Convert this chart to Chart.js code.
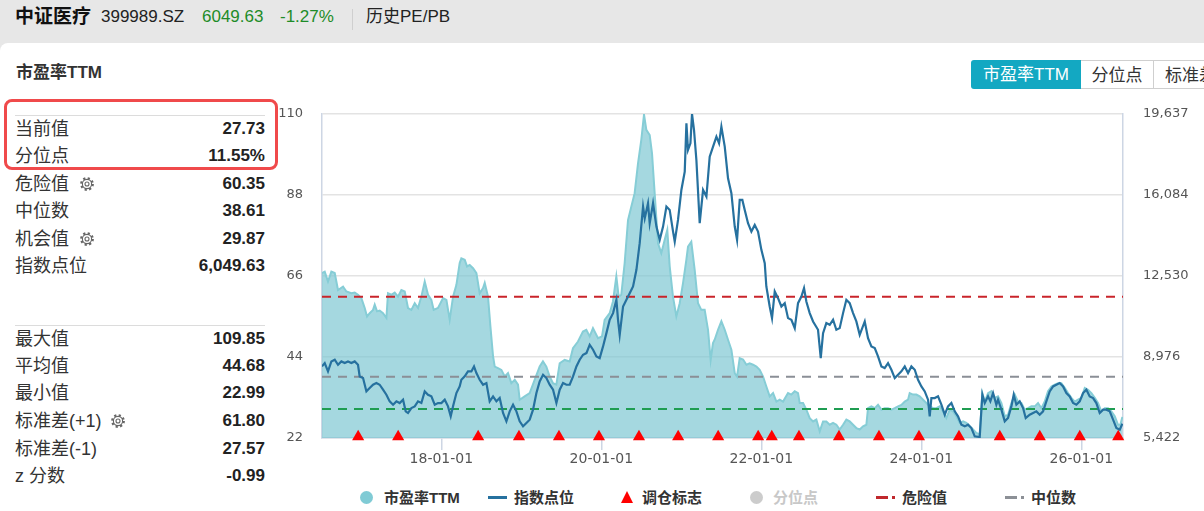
<!DOCTYPE html>
<html><head><meta charset="utf-8">
<script src="https://cdn.jsdelivr.net/npm/chart.js@4/dist/chart.umd.min.js"></script>
<style>
html,body{margin:0;padding:0;width:1204px;height:511px;overflow:hidden;background:#e7e7e7;
  font-family:"Liberation Sans","Noto Sans CJK SC",sans-serif;color:#333;}
.abs{position:absolute;white-space:nowrap;}
.card{position:absolute;left:0;top:43px;width:1204px;height:468px;background:#fff;border-top-left-radius:8px;}
.h{top:6px;line-height:22px;font-size:17px;color:#222;}
.title{left:16px;top:62px;line-height:22px;font-size:17px;font-weight:bold;color:#333;}
.btn{top:60px;height:29px;line-height:29px;font-size:17px;text-align:center;box-sizing:border-box;}
.redbox{left:4px;top:99px;width:274px;height:71px;box-sizing:border-box;border:3px solid #f04a4b;border-radius:8px;}
.sep{left:15px;width:250px;height:1px;background:#dcdcdc;}
.lab{left:15px;height:26px;line-height:26px;font-size:18px;color:#333;}
.val{right:939px;height:26px;line-height:26px;font-size:17px;font-weight:bold;color:#222;text-align:right;}
.gear{width:16px;height:16px;}
#chartBox{position:absolute;left:270px;top:100px;width:934px;height:380px;}
.lg{top:488px;line-height:20px;font-size:15px;font-weight:bold;color:#333;}
</style></head>
<body>
<div class="abs h" style="left:15px;font-size:19px;font-weight:bold;color:#111;">中证医疗</div>
<div class="abs h" style="left:101px;">399989.SZ</div>
<div class="abs h" style="left:202px;color:#1e8c28;">6049.63</div>
<div class="abs h" style="left:280px;color:#1e8c28;">-1.27%</div>
<div class="abs" style="left:352px;top:9px;width:1px;height:21px;background:#cfcfcf;"></div>
<div class="abs h" style="left:366px;">历史PE/PB</div>

<div class="card"></div>
<div class="abs title">市盈率TTM</div>

<div class="abs btn" style="left:971px;width:110px;background:#13a8c2;color:#fff;border-radius:3px 0 0 3px;">市盈率TTM</div>
<div class="abs btn" style="left:1081px;width:73px;border:1px solid #cfcfcf;border-left:none;color:#333;">分位点</div>
<div class="abs btn" style="left:1154px;width:80px;border:1px solid #cfcfcf;border-left:none;color:#333;text-align:left;padding-left:11px;">标准差</div>

<div class="abs redbox"></div>
<div class="abs sep" style="top:115px;"></div>
<div class="abs sep" style="top:325px;"></div>
<div id="stats"></div>

<div id="chartBox"><canvas id="c"></canvas></div>

<!-- legend -->
<div class="abs" style="left:360px;top:491px;width:13px;height:13px;border-radius:50%;background:#80cbd5;"></div>
<div class="abs lg" style="left:384px;">市盈率TTM</div>
<div class="abs" style="left:488px;top:496px;width:19px;height:3px;background:#26719f;"></div>
<div class="abs lg" style="left:514px;">指数点位</div>
<div class="abs" style="left:621px;top:491px;width:0;height:0;border-left:6px solid transparent;border-right:6px solid transparent;border-bottom:12px solid #ff0000;"></div>
<div class="abs lg" style="left:642px;">调仓标志</div>
<div class="abs" style="left:750px;top:491px;width:13px;height:13px;border-radius:50%;background:#cccccc;"></div>
<div class="abs lg" style="left:773px;color:#c8c8c8;">分位点</div>
<div class="abs" style="left:876px;top:496px;width:12px;height:3px;background:#c0282d;"></div>
<div class="abs" style="left:892px;top:496px;width:3px;height:3px;background:#c0282d;"></div>
<div class="abs lg" style="left:902px;">危险值</div>
<div class="abs" style="left:1005px;top:496px;width:12px;height:3px;background:#8c9096;"></div>
<div class="abs" style="left:1021px;top:496px;width:3px;height:3px;background:#8c9096;"></div>
<div class="abs lg" style="left:1031px;">中位数</div>

<script>
// ---------- panel statistics ----------
const statLabels1 = ['当前值','分位点','危险值','中位数','机会值','指数点位'];
const statValues1 = ['27.73','11.55%','60.35','38.61','29.87','6,049.63'];
const statGear1   = [false,false,true,false,true,false];
const statLabels2 = ['最大值','平均值','最小值','标准差(+1)','标准差(-1)','z 分数'];
const statValues2 = ['109.85','44.68','22.99','61.80','27.57','-0.99'];
const statGear2   = [false,false,false,true,false,false];

// ---------- chart data ----------
const peDates = [
2016.508,2016.542,2016.583,2016.625,2016.667,2016.708,2016.771,2016.813,2016.875,2016.917,2016.958,
2017.000,2017.042,2017.071,2017.104,2017.146,2017.167,2017.196,2017.229,2017.271,2017.313,2017.333,
2017.375,2017.417,2017.458,2017.500,2017.542,2017.583,2017.625,2017.667,2017.708,2017.750,2017.792,
2017.833,2017.875,2017.904,2017.958,2018.021,2018.063,2018.104,2018.146,2018.188,2018.229,2018.250,
2018.292,2018.321,2018.354,2018.396,2018.438,2018.479,2018.521,2018.542,2018.583,2018.613,2018.646,
2018.667,2018.708,2018.750,2018.792,2018.833,2018.875,2018.917,2018.958,2018.979,2019.041,2019.104,
2019.166,2019.229,2019.270,2019.312,2019.354,2019.395,2019.437,2019.479,2019.541,2019.604,2019.645,
2019.708,2019.770,2019.812,2019.854,2019.895,2019.958,2020.008,2020.041,2020.104,2020.145,2020.187,
2020.216,2020.249,2020.291,2020.333,2020.374,2020.416,2020.458,2020.499,2020.533,2020.562,2020.604,
2020.633,2020.666,2020.708,2020.749,2020.791,2020.824,2020.854,2020.895,2020.937,2020.979,2021.020,
2021.062,2021.083,2021.124,2021.166,2021.208,2021.249,2021.291,2021.333,2021.366,2021.395,2021.416,
2021.458,2021.500,2021.542,2021.583,2021.625,2021.667,2021.696,2021.729,2021.771,2021.813,2021.854,
2021.896,2021.938,2021.979,2022.021,2022.062,2022.104,2022.146,2022.188,2022.229,2022.271,2022.333,
2022.375,2022.417,2022.458,2022.479,2022.521,2022.562,2022.604,2022.646,2022.687,2022.729,2022.771,
2022.812,2022.854,2022.896,2022.937,2022.979,2023.021,2023.062,2023.104,2023.146,2023.187,2023.229,
2023.271,2023.312,2023.333,2023.375,2023.417,2023.458,2023.500,2023.541,2023.583,2023.625,2023.667,
2023.708,2023.750,2023.792,2023.833,2023.854,2023.896,2023.937,2023.979,2024.021,2024.062,2024.104,
2024.146,2024.187,2024.229,2024.271,2024.312,2024.354,2024.396,2024.437,2024.479,2024.521,2024.562,
2024.604,2024.646,2024.687,2024.729,2024.762,2024.792,2024.833,2024.875,2024.917,2024.958,2025.000,
2025.042,2025.083,2025.125,2025.167,2025.208,2025.250,2025.292,2025.333,2025.375,2025.417,2025.458,
2025.500,2025.542,2025.583,2025.625,2025.667,2025.708,2025.750,2025.792,2025.833,2025.875,2025.917,
2025.958,2026.000,2026.042,2026.083,2026.125,2026.167,2026.208,2026.250,2026.292,2026.333,2026.375,
2026.417,2026.458,2026.487,2026.512];
const peValues = [
66.8,67.2,64.5,67.2,66.8,62.2,63.1,61.8,61.3,61.5,60.9,
60.0,57.3,55.0,55.9,56.8,58.2,56.4,56.6,55.9,54.6,61.3,
60.9,61.5,60.4,62.2,61.8,57.3,56.8,58.6,57.3,60.4,64.5,
60.9,59.5,56.8,57.3,60.0,59.5,54.1,60.4,63.6,69.5,70.8,
70.4,68.6,69.0,68.1,66.8,61.3,62.7,64.1,60.4,52.3,44.2,
41.4,41.0,40.5,38.7,39.6,36.9,37.8,36.5,32.4,33.3,34.2,
37.8,41.4,42.8,41.4,38.7,36.9,36.5,42.3,43.2,42.8,46.4,
48.2,50.9,51.4,49.6,51.8,49.1,49.6,54.1,55.9,59.1,65.9,
60.4,60.9,69.5,81.2,84.8,88.5,96.6,103.0,109.85,105.7,104.3,
99.3,88.5,74.9,72.2,75.8,78.5,68.6,60.4,55.0,58.6,64.0,
70.4,74.0,75.3,67.7,58.6,56.8,56.8,51.4,43.2,47.8,48.7,
51.4,53.7,51.4,48.7,46.0,39.6,38.7,43.7,43.3,41.9,42.3,
41.9,41.4,40.5,38.7,36.0,33.3,34.2,31.9,32.4,31.9,34.2,
33.8,34.7,34.2,31.5,31.5,29.7,27.4,26.5,27.0,23.8,26.5,
26.5,25.6,26.1,25.6,24.3,25.6,27.0,26.5,25.6,24.7,24.3,
25.2,25.6,30.1,30.6,30.1,31.0,29.7,30.1,30.1,29.7,30.1,
30.6,31.0,31.9,32.4,34.2,33.8,33.8,33.3,32.4,31.5,30.6,
30.1,30.1,30.6,29.2,27.4,29.7,29.2,27.9,26.1,26.5,26.1,
25.2,24.3,23.4,22.99,34.2,31.9,34.2,34.7,32.9,33.3,31.5,
27.9,28.3,31.5,33.8,31.9,31.5,29.7,30.1,30.6,30.6,31.5,
30.1,31.9,34.7,36.0,36.5,36.9,36.9,35.6,34.2,32.9,31.9,
32.4,32.9,35.6,35.1,34.2,32.9,31.5,29.2,30.1,30.1,29.2,
27.9,25.6,25.6,27.73];

const idxDates = [
2016.508,2016.542,2016.583,2016.625,2016.667,2016.708,2016.750,2016.792,2016.833,2016.875,2016.917,
2016.958,2016.979,2017.021,2017.063,2017.104,2017.146,2017.188,2017.229,2017.271,2017.313,2017.354,
2017.396,2017.438,2017.479,2017.521,2017.554,2017.583,2017.625,2017.667,2017.708,2017.750,2017.792,
2017.833,2017.875,2017.917,2017.958,2018.000,2018.042,2018.083,2018.117,2018.146,2018.188,2018.229,
2018.250,2018.292,2018.333,2018.375,2018.408,2018.438,2018.479,2018.521,2018.563,2018.604,2018.646,
2018.688,2018.729,2018.771,2018.813,2018.854,2018.896,2018.938,2018.979,2019.021,2019.063,2019.104,
2019.146,2019.188,2019.229,2019.271,2019.313,2019.354,2019.396,2019.438,2019.479,2019.521,2019.563,
2019.604,2019.646,2019.688,2019.729,2019.771,2019.813,2019.854,2019.896,2019.938,2019.979,2020.021,
2020.063,2020.104,2020.146,2020.188,2020.208,2020.229,2020.271,2020.313,2020.354,2020.396,2020.438,
2020.479,2020.521,2020.542,2020.583,2020.604,2020.646,2020.688,2020.729,2020.771,2020.813,2020.854,
2020.896,2020.917,2020.958,2021.000,2021.042,2021.063,2021.083,2021.113,2021.133,2021.158,2021.188,
2021.229,2021.271,2021.313,2021.354,2021.396,2021.438,2021.471,2021.500,2021.542,2021.583,2021.625,
2021.667,2021.696,2021.729,2021.762,2021.792,2021.833,2021.875,2021.917,2021.958,2022.000,2022.042,
2022.062,2022.104,2022.133,2022.167,2022.208,2022.250,2022.292,2022.333,2022.375,2022.417,2022.458,
2022.500,2022.533,2022.562,2022.604,2022.646,2022.708,2022.742,2022.771,2022.812,2022.854,2022.896,
2022.937,2022.979,2023.021,2023.062,2023.104,2023.146,2023.187,2023.229,2023.292,2023.333,2023.375,
2023.417,2023.458,2023.500,2023.541,2023.583,2023.625,2023.667,2023.708,2023.750,2023.792,2023.833,
2023.875,2023.917,2023.958,2024.000,2024.042,2024.083,2024.104,2024.125,2024.167,2024.208,2024.250,
2024.292,2024.333,2024.375,2024.417,2024.458,2024.500,2024.542,2024.583,2024.625,2024.667,2024.729,
2024.762,2024.792,2024.833,2024.862,2024.896,2024.937,2024.958,2025.000,2025.042,2025.083,2025.125,
2025.154,2025.187,2025.229,2025.271,2025.304,2025.354,2025.396,2025.437,2025.479,2025.521,2025.562,
2025.604,2025.646,2025.687,2025.729,2025.771,2025.812,2025.854,2025.896,2025.937,2025.979,2026.021,
2026.062,2026.104,2026.146,2026.187,2026.229,2026.271,2026.312,2026.354,2026.396,2026.437,2026.479,
2026.512];
const idxValues = [
8563,8709,8344,8782,8855,8636,8782,8709,8782,8709,8782,
8636,8125,8052,7467,7613,7759,7832,7759,7540,7321,7029,
6883,7029,6956,7102,6591,6518,6737,6810,7029,6956,7467,
7321,7248,6883,6956,6956,7102,6810,6372,6810,7394,7686,
7978,8125,8344,8344,8563,8271,7978,7759,7832,7029,7248,
7029,7175,6518,6153,6591,6883,6591,6153,5933,6080,6226,
6664,7394,7905,8198,8052,7759,7540,6956,7540,7832,7759,
7759,8125,8563,8855,9075,9148,9513,9294,9001,8928,9440,
10024,10609,10901,11485,10609,9951,11193,11485,11777,12070,12800,
13969,15576,15065,15722,14845,15722,14699,14115,14699,15576,15430,
14480,14042,14991,16306,17110,19228,18059,18351,19637,18936,17599,
14845,16306,16014,17767,18205,18644,18351,19082,18205,16818,16160,
14699,14115,15868,15868,15430,14845,14480,14772,14480,13676,13092,
12070,11193,10682,11850,11558,11193,11339,10682,10609,10243,11339,
11631,11996,11412,10901,10536,10170,8928,10024,10463,10390,10609,
10170,10243,10901,11485,11339,10901,10536,9951,10536,9805,9440,
9367,9001,8563,8490,8709,8417,8052,8198,8344,8563,8271,
8563,8417,7978,7686,7467,7102,6372,7175,7175,7248,6883,
6445,6810,6956,6591,6372,6007,5933,6007,5860,5495,5466,
7321,6956,7248,7029,7394,6883,7102,6664,6153,6299,6810,
7321,6883,7029,6737,6299,6445,6518,6591,6445,6591,7029,
7467,7686,7759,7832,7686,7394,7248,6956,6883,7029,7394,
7540,7248,7175,6956,6518,6664,6664,6591,6226,5860,5787,
6050];

const rebalanceDates = [2016.96,2017.46,2018.46,2018.97,2019.47,2019.97,2020.47,2020.96,2021.46,2021.96,
  2022.13,2022.47,2022.97,2023.47,2023.97,2024.47,2024.98,2025.48,2025.98,2026.46];
const markerLevel = 22.35;
const dangerValue = 60.35;
const medianValue = 38.61;
const chanceValue = 29.87;
const yearTicks = [2018, 2020, 2022, 2024, 2026];
const peTicks = [22, 44, 66, 88, 110];
const idxTicks = [5422.2, 8976.0, 12529.8, 16083.6, 19637.4];
const xRange = [2016.508, 2026.52];

// ---------- panel render ----------
const gearSvg = '<svg class="gear" viewBox="0 0 16 16"><circle cx="8" cy="8" r="5.6" fill="none" stroke="#666" stroke-width="2.6" stroke-dasharray="2.1 2.3"/><circle cx="8" cy="8" r="4.6" fill="#fff" stroke="#666" stroke-width="1.1"/><circle cx="8" cy="8" r="2" fill="none" stroke="#666" stroke-width="1.1"/></svg>';
function addRows(labels, values, gears, centers){
  const host = document.getElementById('stats');
  labels.forEach((l,i)=>{
    const top = centers[i]-13;
    const a = document.createElement('div'); a.className='abs lab'; a.style.top=top+'px'; a.textContent=l; host.appendChild(a);
    const b = document.createElement('div'); b.className='abs val'; b.style.top=top+'px'; b.textContent=values[i]; host.appendChild(b);
    if (gears[i]) {
      const g = document.createElement('div'); g.className='abs'; g.innerHTML=gearSvg;
      g.style.left = (l.length>3 ? 110 : 79)+'px'; g.style.top=(centers[i]-8)+'px'; host.appendChild(g);
    }
  });
}
addRows(statLabels1, statValues1, statGear1, [129,156,184,211,239,266]);
addRows(statLabels2, statValues2, statGear2, [339,366,393,421,449,476]);

// ---------- chart ----------
Chart.defaults.font.family = '"DejaVu Sans", sans-serif';
const xy = (xs, ys) => xs.map((x,i)=>({x:x, y:ys[i]}));
const hline = v => [{x:xRange[0], y:v},{x:xRange[1], y:v}];
const axisBlue = '#cdd6e4';

new Chart(document.getElementById('c'), {
  type: 'line',
  data: { datasets: [
    { label:'调仓标志', type:'scatter', data: rebalanceDates.map(d=>({x:d, y:markerLevel})),
      pointStyle:'triangle', pointRadius:7, pointHoverRadius:7, backgroundColor:'#ff0000', borderColor:'#ff0000',
      borderWidth:0, clip:false, yAxisID:'yL', order:0 },
    { label:'指数点位', data: xy(idxDates, idxValues), borderColor:'#26719f', borderWidth:2.2,
      pointRadius:0, tension:0, yAxisID:'yR', order:1 },
    { label:'危险值', data: hline(dangerValue), borderColor:'#c9242b', borderDash:[9,7], borderWidth:2,
      pointRadius:0, yAxisID:'yL', order:2 },
    { label:'中位数', data: hline(medianValue), borderColor:'#8b8f96', borderDash:[9,7], borderWidth:2,
      pointRadius:0, yAxisID:'yL', order:2 },
    { label:'机会值', data: hline(chanceValue), borderColor:'#1f9d52', borderDash:[9,7], borderWidth:2,
      pointRadius:0, yAxisID:'yL', order:2 },
    { label:'市盈率TTM', data: xy(peDates, peValues), borderColor:'#86cdd6', backgroundColor:'rgba(122,198,209,0.68)',
      fill:'origin', borderWidth:2, pointRadius:0, tension:0, yAxisID:'yL', order:5 }
  ]},
  options: {
    responsive:true, maintainAspectRatio:false, animation:false,
    layout:{ padding:{ top:14, left:0, right:0, bottom:0 } },
    plugins:{ legend:{display:false}, tooltip:{enabled:false} },
    scales:{
      x:{ type:'linear', min:xRange[0], max:xRange[1],
          afterBuildTicks: s => { s.ticks = yearTicks.map(v=>({value:v})); },
          ticks:{ callback: v => String(v).slice(2)+'-01-01', color:'#555', font:{size:14}, padding:1, maxRotation:0, autoSkip:false },
          grid:{ drawOnChartArea:false, drawTicks:true, tickLength:12, color:axisBlue, lineWidth:1.5 },
          border:{ color:axisBlue, width:1.5 },
          afterFit: s => { s.height = 42; } },
      yL:{ position:'left', min:peTicks[0], max:peTicks[peTicks.length-1],
           afterBuildTicks: s => { s.ticks = peTicks.map(v=>({value:v})); },
           ticks:{ color:'#555', font:{size:13}, padding:0 },
           grid:{ color:'#e3e3e3', lineWidth:1.5, drawTicks:true, tickLength:19, tickColor:'rgba(0,0,0,0)' },
           border:{ color:axisBlue, width:1.5 },
           afterFit: s => { s.width = 52; } },
      yR:{ position:'right', min:idxTicks[0], max:idxTicks[idxTicks.length-1],
           afterBuildTicks: s => { s.ticks = idxTicks.map(v=>({value:v})); },
           ticks:{ callback: v => Math.round(v).toLocaleString('en-US'), color:'#555', font:{size:13}, padding:0 },
           grid:{ display:false, drawTicks:true, tickLength:20 },
           border:{ color:axisBlue, width:1.5 },
           afterFit: s => { s.width = 81; } }
    }
  }
});
</script>
</body></html>
